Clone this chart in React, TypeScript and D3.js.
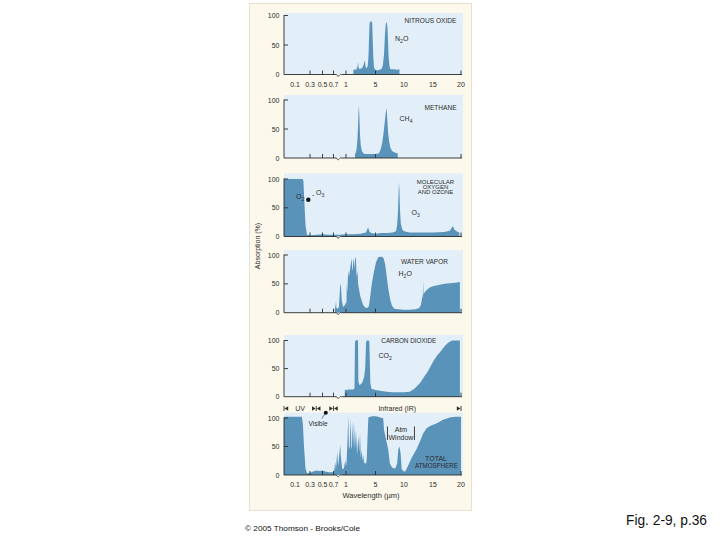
import React from "react";
import * as d3 from "d3";

type Pt = [number, number];

// ---------- data (wavelength in µm, absorption in %) ----------
const X_TICK_VALUES = [0.1, 0.3, 0.5, 0.7, 1, 5, 10, 15, 20];
const X_TICK_LABELS = ["0.1", "0.3", "0.5", "0.7", "1", "5", "10", "15", "20"];
const X_TICK_MARKS = [0.3, 0.5, 0.7, 1, 5, 20];
const Y_TICK_VALUES = [0, 50, 100];
const Y_TICK_LABELS = ["0", "50", "100"];

const N2O_SPECTRUM: Pt[] = [
  [2.0, 7], [2.2, 9], [2.4, 8], [2.55, 13], [2.63, 21], [2.7, 12], [2.85, 9], [3.0, 10], [3.2, 11],
  [3.4, 17], [3.54, 24], [3.65, 13], [3.8, 10], [3.95, 15], [4.05, 32], [4.12, 60], [4.2, 86],
  [4.27, 91], [4.35, 88], [4.45, 91], [4.55, 87], [4.62, 60], [4.7, 30], [4.8, 12], [4.95, 8],
  [5.3, 7], [5.8, 8], [6.1, 10], [6.3, 16], [6.5, 35], [6.65, 66], [6.8, 86], [6.9, 89],
  [7.0, 86], [7.1, 80], [7.2, 55], [7.3, 30], [7.45, 15], [7.6, 9], [8.2, 9], [8.8, 8], [9.2, 9],
];

const CH4_SPECTRUM: Pt[] = [
  [2.22, 7], [2.35, 10], [2.45, 17], [2.55, 32], [2.63, 55], [2.7, 80], [2.76, 91], [2.82, 70],
  [2.9, 40], [3.0, 22], [3.15, 12], [3.35, 8], [3.6, 7], [4.5, 7], [4.95, 7], [4.96, 0], [5.04, 0],
  [5.05, 7], [5.6, 8], [5.8, 12], [6.0, 18], [6.2, 28], [6.4, 42], [6.6, 60], [6.8, 78], [6.96, 86],
  [7.05, 70], [7.2, 45], [7.4, 28], [7.6, 18], [7.9, 12], [8.3, 10], [8.7, 8], [8.9, 8],
];

const O2O3_SPECTRUM: Pt[] = [
  [0, 100], [0.2, 100], [0.212, 97], [0.225, 60], [0.24, 20], [0.26, 3], [0.3, 2], [0.4, 3],
  [0.5, 4], [0.6, 3], [0.7, 3], [0.85, 3], [1, 4], [2, 4], [3, 5], [3.7, 7], [3.9, 13], [4.0, 16],
  [4.15, 9], [4.4, 6], [5, 5], [6, 6], [7, 6], [8, 7], [8.6, 9], [8.8, 20], [8.95, 45], [9.05, 75],
  [9.12, 95], [9.2, 80], [9.3, 45], [9.45, 22], [9.7, 12], [10, 9], [11, 7], [13, 7], [15, 7],
  [17, 8], [18, 10], [18.4, 16], [18.6, 18], [18.8, 12], [19.2, 9], [19.7, 7],
];

const H2O_SPECTRUM: Pt[] = [
  [0.73, 6], [0.75, 12], [0.76, 20], [0.77, 8], [0.8, 7], [0.83, 10], [0.85, 35], [0.865, 51],
  [0.88, 45], [0.9, 20], [0.93, 10], [0.97, 13], [1.02, 19], [1.06, 12], [1.1, 50], [1.18, 35],
  [1.25, 60], [1.31, 74], [1.4, 62], [1.5, 70], [1.6, 80], [1.68, 86], [1.77, 95], [1.83, 78],
  [1.9, 72], [2.0, 90], [2.08, 93], [2.15, 74], [2.25, 97], [2.35, 92], [2.44, 62], [2.55, 72],
  [2.66, 48], [2.8, 38], [2.95, 28], [3.15, 20], [3.35, 13], [3.6, 9], [3.9, 8], [4.1, 11],
  [4.25, 25], [4.5, 50], [4.8, 72], [5.1, 88], [5.5, 96], [5.8, 97], [6.1, 97], [6.4, 95],
  [6.7, 84], [7.0, 60], [7.3, 38], [7.6, 22], [7.9, 12], [8.3, 7], [9, 6], [10, 5], [11, 5],
  [12, 6], [12.6, 8], [12.9, 13], [13.1, 24], [13.25, 30], [13.3, 56], [13.36, 32], [13.6, 36],
  [14, 40], [14.5, 44], [15, 46], [16, 48], [17, 50], [18, 51], [19, 52], [19.8, 53],
];

const CO2_SPECTRUM: Pt[] = [
  [0.97, 12], [1.5, 13], [2.0, 13], [2.15, 15], [2.22, 98], [2.35, 100], [2.5, 101], [2.63, 100],
  [2.68, 28], [2.8, 21], [3.0, 22], [3.2, 25], [3.45, 35], [3.6, 50], [3.72, 97], [3.85, 100],
  [4.05, 100], [4.16, 99], [4.3, 25], [4.45, 14], [5, 12], [6, 10], [7, 9], [8, 8], [9, 8], [10, 8],
  [11, 9], [11.8, 14], [12.8, 25], [13.5, 36], [14.1, 45], [15.05, 63], [15.8, 74], [16.5, 82],
  [17.1, 90], [17.7, 96], [18.4, 100], [19.8, 100],
];

const TOTAL_SPECTRUM: Pt[] = [
  [0, 102], [0.19, 102], [0.205, 90], [0.22, 50], [0.24, 12], [0.26, 3], [0.3, 4], [0.35, 6],
  [0.4, 8], [0.45, 7], [0.5, 8], [0.55, 6], [0.62, 5], [0.7, 5], [0.72, 8], [0.74, 23], [0.76, 10],
  [0.79, 41], [0.81, 15], [0.84, 35], [0.86, 53], [0.88, 30], [0.91, 10], [0.95, 12], [0.98, 25],
  [1.02, 15], [1.1, 30], [1.2, 60], [1.31, 104], [1.4, 45], [1.5, 50], [1.63, 100], [1.72, 50],
  [1.8, 45], [1.9, 94], [1.98, 50], [2.08, 96], [2.2, 45], [2.36, 79], [2.5, 35], [2.67, 68],
  [2.8, 40], [2.9, 75], [3.0, 30], [3.13, 44], [3.25, 25], [3.35, 35], [3.45, 20], [3.58, 23],
  [3.7, 18], [3.8, 26], [3.9, 60], [4.03, 101], [4.5, 103], [5, 103], [5.5, 102], [5.8, 101],
  [6.2, 100], [6.36, 99], [6.5, 79], [6.9, 60], [7.25, 44], [7.5, 21], [7.8, 15], [8.1, 12],
  [8.5, 12], [8.8, 20], [9.0, 45], [9.2, 50], [9.4, 38], [9.6, 10], [10.0, 6], [10.2, 6],
  [10.5, 12], [11.3, 30], [12.2, 46], [12.8, 60], [13.3, 73], [13.9, 82], [14.5, 86], [15.7, 91],
  [16.8, 97], [18, 101], [19, 102], [20, 102],
];

const SPECTRAL_BANDS = [
  { name: "UV", from: 0, to: 0.4 },
  { name: "", from: 0.4, to: 0.7 },
  { name: "Infrared (IR)", from: 0.7, to: 20 },
];
const VISIBLE_MARK = 0.56;
const ATM_WINDOW = [7.1, 11.8];

// ---------- layout ----------
const FONT = "'Liberation Sans', Arial, Helvetica, sans-serif";
const FILL = "#5a93ba";
const PLOT_BG = "#e3eff8";
const PAGE_BG = "#fcf9ec";
const INK = "#2b2b2b";

const X_DOMAIN = [0, 0.1, 0.3, 0.5, 0.7, 1, 5, 10, 15, 20];
const X_RANGE = [284, 295, 310, 322.5, 333.5, 346, 375.5, 404, 433, 461];
const x = d3.scaleLinear().domain(X_DOMAIN).range(X_RANGE);
const PLOT_LEFT = 284;
const PLOT_RIGHT = 463;
const BREAK = [336.5, 341.5];

const PANELS = [
  { key: "n2o", data: N2O_SPECTRUM, top: 15.5, base: 74.5, bgTop: 13 },
  { key: "ch4", data: CH4_SPECTRUM, top: 100, base: 158, bgTop: 95 },
  { key: "o2o3", data: O2O3_SPECTRUM, top: 179, base: 236.5, bgTop: 173.5 },
  { key: "h2o", data: H2O_SPECTRUM, top: 255, base: 312.7, bgTop: 250 },
  { key: "co2", data: CO2_SPECTRUM, top: 340.5, base: 396.7, bgTop: 335 },
  { key: "total", data: TOTAL_SPECTRUM, top: 418, base: 475, bgTop: 412.5 },
];

function Sub({ base, sub, after, x0, y0, size = 7, anchor = "start" }: any) {
  return (
    <text x={x0} y={y0} fontSize={size} fill={INK} fontFamily={FONT} textAnchor={anchor}>
      {base}
      <tspan dy={2} fontSize={size * 0.72}>{sub}</tspan>
      {after ? <tspan dy={-2}>{after}</tspan> : null}
    </text>
  );
}

function Panel({ p, showLabels }: any) {
  const y = d3.scaleLinear().domain([0, 100]).range([p.base, p.top]);
  const area = d3
    .area<Pt>()
    .x((d) => x(d[0]))
    .y0(p.base)
    .y1((d) => y(d[1]));
  const yb = p.base;
  return (
    <g>
      <rect x={PLOT_LEFT} y={p.bgTop} width={PLOT_RIGHT - PLOT_LEFT} height={p.base - p.bgTop} fill={PLOT_BG} />
      <path d={area(p.data) || ""} fill={FILL} />
      {/* y axis */}
      <line x1={PLOT_LEFT} x2={PLOT_LEFT} y1={p.top - 0.5} y2={yb} stroke={INK} strokeWidth={0.9} />
      {Y_TICK_VALUES.map((v, i) => (
        <g key={v}>
          {v > 0 ? <line x1={PLOT_LEFT} x2={PLOT_LEFT + 4} y1={y(v)} y2={y(v)} stroke={INK} strokeWidth={0.9} /> : null}
          <text x={279.5} y={y(v) + 2.5} fontSize={7} textAnchor="end" fill={INK} fontFamily={FONT}>
            {Y_TICK_LABELS[i]}
          </text>
        </g>
      ))}
      {/* x axis with break */}
      <line x1={PLOT_LEFT} x2={BREAK[0]} y1={yb} y2={yb} stroke={INK} strokeWidth={0.9} />
      <line x1={BREAK[1]} x2={PLOT_RIGHT - 1} y1={yb} y2={yb} stroke={INK} strokeWidth={0.9} />
      <path
        d={`M${BREAK[0]},${yb} c0.8,1.8 1.8,2.2 2.6,1.2 c0.6,-0.8 1.4,-2 2.4,-1.2`}
        fill="none"
        stroke={INK}
        strokeWidth={0.8}
      />
      {X_TICK_MARKS.map((v) => (
        <line key={v} x1={x(v)} x2={x(v)} y1={yb} y2={yb - 4} stroke={INK} strokeWidth={0.9} />
      ))}
      {showLabels
        ? X_TICK_VALUES.map((v, i) => (
            <text key={v} x={x(v)} y={yb + 12} fontSize={7} textAnchor="middle" fill={INK} fontFamily={FONT}>
              {X_TICK_LABELS[i]}
            </text>
          ))
        : null}
    </g>
  );
}

function Arrow({ cx, cy, dir }: { cx: number; cy: number; dir: number }) {
  // triangle with tip at cx pointing in dir (-1 left, +1 right)
  const w = 3.6;
  const h = 2.2;
  return <path d={`M${cx},${cy} L${cx - dir * w},${cy - h} L${cx - dir * w},${cy + h} Z`} fill={INK} />;
}

export default function App() {
  const bandY = 408.5;
  return (
    <svg width={720} height={540} style={{ position: "absolute", left: 0, top: 0 }}>
      <rect x={0} y={0} width={720} height={540} fill="#ffffff" />
      <rect x={249.5} y={3.5} width={222} height={507} fill={PAGE_BG} stroke="#e6e2d2" strokeWidth={1} />

      {PANELS.map((p, i) => (
        <Panel key={p.key} p={p} showLabels={i === 0 || i === PANELS.length - 1} />
      ))}

      {/* panel titles */}
      <text x={404.5} y={22.5} fontSize={7} fill={INK} fontFamily={FONT} textLength={52} lengthAdjust="spacingAndGlyphs">
        NITROUS OXIDE
      </text>
      <Sub base="N" sub="2" after="O" x0={395} y0={40.5} />

      <text x={424.5} y={109.5} fontSize={7} fill={INK} fontFamily={FONT} textLength={32} lengthAdjust="spacingAndGlyphs">
        METHANE
      </text>
      <Sub base="CH" sub="4" x0={399.5} y0={121} />

      <g fontSize={6} fill={INK} fontFamily={FONT} textAnchor="middle">
        <text x={435.5} y={183.8}>MOLECULAR</text>
        <text x={435.5} y={189}>OXYGEN</text>
        <text x={435.5} y={194.2}>AND OZONE</text>
      </g>
      <Sub base="O" sub="3" x0={411.5} y0={215} />
      <Sub base="O" sub="2" x0={296} y0={198.5} />
      <circle cx={308.3} cy={199.7} r={2.2} fill="#111" />
      <text x={312} y={197} fontSize={7} fill={INK} fontFamily={FONT}>-</text>
      <Sub base="O" sub="3" x0={316} y0={195} />

      <text x={401} y={264} fontSize={7} fill={INK} fontFamily={FONT} textLength={47} lengthAdjust="spacingAndGlyphs">
        WATER VAPOR
      </text>
      <Sub base="H" sub="2" after="O" x0={398.5} y0={276} />

      <text x={381.3} y={342.5} fontSize={7} fill={INK} fontFamily={FONT} textLength={55} lengthAdjust="spacingAndGlyphs">
        CARBON DIOXIDE
      </text>
      <Sub base="CO" sub="2" x0={378.5} y0={357.5} />

      {/* spectral bands row */}
      {SPECTRAL_BANDS.map((b, i) => {
        const x0 = x(b.from);
        const x1 = x(b.to);
        return (
          <g key={i}>
            {i === 0 ? <line x1={x0} x2={x0} y1={bandY - 2.5} y2={bandY + 2.5} stroke={INK} strokeWidth={0.9} /> : null}
            <line x1={x1} x2={x1} y1={bandY - 2.5} y2={bandY + 2.5} stroke={INK} strokeWidth={0.9} />
            <Arrow cx={x0 + 0.6} cy={bandY} dir={-1} />
            <Arrow cx={x1 - 0.6} cy={bandY} dir={1} />
            {b.name ? (
              <text x={(x0 + x1) / 2} y={bandY + 2.5} fontSize={7} fill={INK} fontFamily={FONT} textAnchor="middle">
                {b.name}
              </text>
            ) : null}
          </g>
        );
      })}
      <circle cx={x(VISIBLE_MARK)} cy={412.8} r={2} fill="#111" />
      <line x1={x(VISIBLE_MARK) - 1} x2={x(VISIBLE_MARK) - 4} y1={414} y2={418.5} stroke={INK} strokeWidth={0.6} />
      <text x={318} y={425.5} fontSize={6.5} fill={INK} fontFamily={FONT} textAnchor="middle">
        Visible
      </text>

      {/* atmospheric window */}
      <line x1={x(ATM_WINDOW[0])} x2={x(ATM_WINDOW[0])} y1={426.5} y2={440} stroke={INK} strokeWidth={0.9} />
      <line x1={x(ATM_WINDOW[1])} x2={x(ATM_WINDOW[1])} y1={426.5} y2={440} stroke={INK} strokeWidth={0.9} />
      <text x={(x(ATM_WINDOW[0]) + x(ATM_WINDOW[1])) / 2} y={432.3} fontSize={7} fill={INK} fontFamily={FONT} textAnchor="middle">
        Atm
      </text>
      <text x={(x(ATM_WINDOW[0]) + x(ATM_WINDOW[1])) / 2} y={439.5} fontSize={7} fill={INK} fontFamily={FONT} textAnchor="middle">
        Window
      </text>
      <text x={436} y={460.5} fontSize={7} fill={INK} fontFamily={FONT} textAnchor="middle">TOTAL</text>
      <text x={436.5} y={467.5} fontSize={7} fill={INK} fontFamily={FONT} textAnchor="middle" textLength={43} lengthAdjust="spacingAndGlyphs">
        ATMOSPHERE
      </text>

      {/* axis titles */}
      <text x={371} y={497.5} fontSize={7.5} fill={INK} fontFamily={FONT} textAnchor="middle">
        Wavelength (µm)
      </text>
      <text
        transform="translate(259.5,246) rotate(-90)"
        fontSize={7}
        fill={INK}
        fontFamily={FONT}
        textAnchor="middle"
      >
        Absorption (%)
      </text>

      {/* footer */}
      <text x={245} y={530.5} fontSize={8} fill="#111" fontFamily={FONT} textLength={115} lengthAdjust="spacingAndGlyphs">
        © 2005 Thomson - Brooks/Cole
      </text>
      <text x={626} y={524.5} fontSize={14} fill="#111" fontFamily={FONT} textLength={81} lengthAdjust="spacingAndGlyphs">
        Fig. 2-9, p.36
      </text>
    </svg>
  );
}
